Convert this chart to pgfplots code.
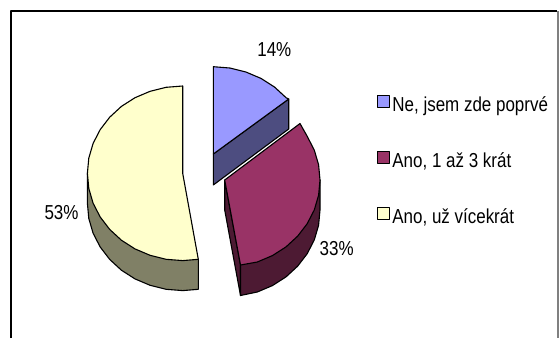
\documentclass[border=0pt]{standalone}
\usepackage{fontspec}
\setmainfont[FakeStretch=0.84]{Liberation Sans}
\usepackage{pgfplots}
\pgfplotsset{compat=1.18}
\definecolor{cBlue}{HTML}{9999FF}
\definecolor{cBlueD}{HTML}{4D4D80}
\definecolor{cMar}{HTML}{993366}
\definecolor{cMarD}{HTML}{4D1A33}
\definecolor{cYel}{HTML}{FFFFCC}
\definecolor{cYelD}{HTML}{808066}
\begin{document}
\begin{tikzpicture}
\useasboundingbox (0,0) rectangle (559pt,338pt);
\begin{axis}[
  at={(0,0)}, anchor=south west,
  scale only axis, width=559pt, height=338pt,
  xmin=0, xmax=559, ymin=0, ymax=338, y dir=reverse,
  axis lines=none, clip=true,
  legend cell align=left,
  legend image code/.code={\draw[#1,line width=1.1pt] (0pt,0pt) rectangle (12pt,12pt);},
  legend style={at={(axis cs:376.5,94.5)}, anchor=north west, draw=none, fill=none,
    inner sep=0pt, row sep=35pt,
    font=\fontsize{20.2}{22}\selectfont,
    nodes={text height=13pt,text depth=4pt,inner sep=0pt,outer sep=0pt},
    /tikz/every odd column/.append style={column sep=2.6pt}},
  every axis plot/.append style={line width=1.1pt, draw=black, mark=none, line join=round},
]
% frame
\addplot[forget plot, draw=black, line width=1.2pt] coordinates {(11,338) (11,11) (557,11)};
\addplot[forget plot, draw=gray, line width=1.4pt] coordinates {(558,11) (558,338)};
% sides
\addplot[forget plot, fill=cBlueD] coordinates {(288.7,99) (288.7,129) (213.3,185) (213.3,154)} -- cycle;
\addplot[forget plot, fill=cMarD] coordinates {(224.7,180) (224.7,210) (240.5,295.5) (240.5,265)} -- cycle;
\addplot[forget plot, fill=cMarD] coordinates {(320,180) (320,210) (318.6,225.2) (314.3,239.9) (307.2,253.7) (297.7,266.1) (286,276.9) (272.4,285.6) (257.3,292) (240.5,295.5) (240.5,265)} -- cycle;
\addplot[forget plot, fill=cYelD] coordinates {(198.3,259.3) (198.3,289.3) (182.7,290.6) (166.2,289.3) (150.1,285.3) (135,278.9) (121.4,270.2) (109.7,259.4) (100.2,247) (93.1,233.2) (88.8,218.5) (87.4,203.3) (87.4,173.3)} -- cycle;
% top faces
\addplot[fill=cBlue] coordinates {(213.3,154) (213.3,66.7) (229.8,68) (245.9,72) (261,78.4) (274.6,87.1) (286.3,97.9) (288.7,99)} -- cycle;
\addlegendentry{Ne, jsem zde poprvé}
\addplot[fill=cMar] coordinates {(224.7,180) (300,123.5) (307.2,136.3) (314.3,150.1) (318.6,164.8) (320,180) (318.6,195.2) (314.3,209.9) (307.2,223.7) (297.7,236.1) (286,246.9) (272.4,255.6) (257.3,262) (240.5,265)} -- cycle;
\addlegendentry{Ano, 1 až 3 krát}
\addplot[fill=cYel] coordinates {(182.7,173.3) (198.3,259.3) (182.7,260.6) (166.2,259.3) (150.1,255.3) (135,248.9) (121.4,240.2) (109.7,229.4) (100.2,217) (93.1,203.2) (88.8,188.5) (87.4,173.3) (88.8,158.1) (93.1,143.4) (100.2,129.6) (109.7,117.2) (121.4,106.4) (135,97.7) (150.1,91.3) (166.2,87.3) (182.7,86)} -- cycle;
\addlegendentry{Ano, už vícekrát}
% value labels
\node[font=\fontsize{20.2}{22}\selectfont] at (axis cs:274.3,49.5) {14\%};
\node[font=\fontsize{20.2}{22}\selectfont] at (axis cs:336.7,248.5) {33\%};
\node[font=\fontsize{20.2}{22}\selectfont] at (axis cs:61.5,212.5) {53\%};
\end{axis}
\end{tikzpicture}
\end{document}
